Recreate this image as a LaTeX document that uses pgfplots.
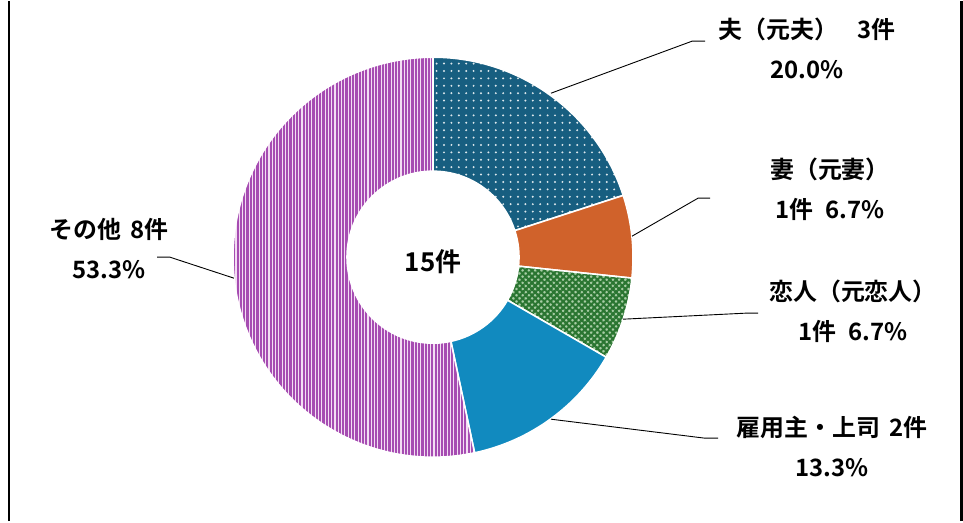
\documentclass[border=0pt]{standalone}
\usepackage{fontspec}
\setmainfont{Noto Sans CJK JP}[BoldFont={Noto Sans CJK JP Bold}]
\usepackage{pgfplots}
\pgfplotsset{compat=1.18}
\usepackage{pgfplotstable}
\usetikzlibrary{patterns.meta}

\definecolor{cTeal}{HTML}{175E80}
\definecolor{cOrange}{HTML}{D0622B}
\definecolor{cGreenD}{HTML}{2A7531}
\definecolor{cGreenL}{HTML}{A8CDA5}
\definecolor{cBlue}{HTML}{118ABF}
\definecolor{cPurple}{HTML}{A64CB2}
\definecolor{cPurpleL}{HTML}{F3DDF3}

\pgfplotstableread{
label value
husband 3
wife 1
lover 1
employer 2
other 8
}\piedata

\tikzset{
  slice0/.style={preaction={fill=cTeal}, pattern={Dots[distance=7.4bp, radius=1.1bp]}, pattern color=white!85!cTeal},
  slice1/.style={fill=cOrange},
  slice2/.style={preaction={fill=cGreenL}, pattern={Hatch[angle=45, distance=4.4bp, line width=2.1bp]}, pattern color=cGreenD},
  slice3/.style={fill=cBlue},
  slice4/.style={preaction={fill=cPurpleL}, pattern={Lines[angle=90, distance=3.3bp, line width=2.2bp]}, pattern color=cPurple},
}

\begin{document}
\begin{tikzpicture}
% cumulative angles from the table
\def\total{0}
\foreach \i in {0,...,4}{%
  \pgfplotstablegetelem{\i}{value}\of\piedata
  \pgfmathsetmacro\tt{\total+\pgfplotsretval}%
  \xdef\total{\tt}%
}
\gdef\cum{0}
\foreach \i in {0,...,4}{%
  \pgfplotstablegetelem{\i}{value}\of\piedata
  \pgfmathsetmacro\s{90-360*\cum/\total}%
  \pgfmathsetmacro\nc{\cum+\pgfplotsretval}%
  \pgfmathsetmacro\e{90-360*\nc/\total}%
  \expandafter\xdef\csname sa\i\endcsname{\s}%
  \expandafter\xdef\csname ea\i\endcsname{\e}%
  \xdef\cum{\nc}%
}
\begin{axis}[
  x=1bp, y=1bp,
  xmin=0, xmax=963, ymin=0, ymax=520,
  hide axis, clip=false,
  scale only axis,
]
\fill[white] (axis cs:0,0) rectangle (axis cs:963,520);
\draw[black, line width=2.4bp] (axis cs:9,0) -- (axis cs:9,520);
\draw[black, line width=2.4bp] (axis cs:961.5,0) -- (axis cs:961.5,520);
\coordinate (C) at (axis cs:433,264);
\pgfplotsinvokeforeach{0,...,4}{
  \path[slice#1, draw=white, line width=1.6bp]
    ([shift={(\csname sa#1\endcsname:200bp)}]C)
    arc[start angle=\csname sa#1\endcsname, end angle=\csname ea#1\endcsname, radius=200bp]
    -- ([shift={(\csname ea#1\endcsname:86bp)}]C)
    arc[start angle=\csname ea#1\endcsname, end angle=\csname sa#1\endcsname, radius=86bp]
    -- cycle;
}
% leader lines
\draw[black, line width=0.9bp] (axis cs:551,428) -- (axis cs:692,480) -- (axis cs:705,480);
\draw[black, line width=0.9bp] (axis cs:632,285) -- (axis cs:698,323) -- (axis cs:710,323);
\draw[black, line width=0.9bp] (axis cs:623,202) -- (axis cs:745,208) -- (axis cs:758,208);
\draw[black, line width=0.9bp] (axis cs:551,102) -- (axis cs:705,83) -- (axis cs:718,83);
\draw[black, line width=0.9bp] (axis cs:234,243) -- (axis cs:170,264) -- (axis cs:157,264);
% labels
\tikzset{lab/.style={align=center, font=\fontsize{24}{40}\selectfont\bfseries, inner sep=0pt}}
\node[lab] at (axis cs:807,473) {夫（元夫）\hspace{0.8em}3件\\20.0\%};
\node[lab] at (axis cs:830,332) {妻（元妻）\\1件\hspace{0.5em}6.7\%};
\node[lab] at (axis cs:853,210) {恋人（元恋人）\\1件\hspace{0.5em}6.7\%};
\node[lab] at (axis cs:832,75) {雇用主・上司\hspace{0.4em}2件\\13.3\%};
\node[lab] at (axis cs:109,273) {その他\hspace{0.4em}8件\\53.3\%};
\node[font=\fontsize{26}{30}\selectfont\bfseries, inner sep=0pt] at (axis cs:433,259) {15件};
\end{axis}
\end{tikzpicture}
\end{document}
